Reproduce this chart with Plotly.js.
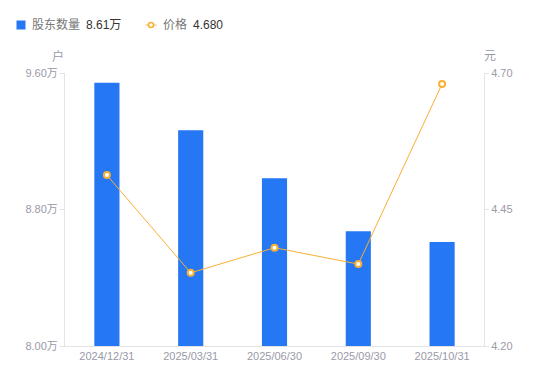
<!DOCTYPE html>
<html><head><meta charset="utf-8">
<script src="https://cdn.plot.ly/plotly-3.0.1.min.js"></script>
<style>html,body{margin:0;padding:0;background:#fff}#c{width:550px;height:381px}</style>
</head><body><div id="c"></div>
<script>
const categories = ["2024/12/31","2025/03/31","2025/06/30","2025/09/30","2025/10/31"];
const holders = [9.543, 9.264, 8.983, 8.672, 8.61]; // 万户
const prices = [4.513, 4.334, 4.380, 4.350, 4.680]; // 元
const leftTicks = [8.00, 8.80, 9.60];
const rightTicks = [4.20, 4.45, 4.70];
const legendHolder = "8.61万";
const legendPrice = "4.680";

const font = "'Liberation Sans', Arial, 'Noto Sans CJK SC', sans-serif";
const tickColor = "#9a9aa8";
const axisLine = "#e3e3e6";
const blue = "#2577F4";
const orange = "#F7B034";

const traces = [
  {type:"bar", x:categories, y:holders, width:0.3, marker:{color:blue}, yaxis:"y", hoverinfo:"skip"},
  {type:"scatter", mode:"lines+markers", x:categories, y:prices, yaxis:"y2",
   line:{color:orange, width:1}, marker:{symbol:"circle", size:6, color:"#fff", line:{color:orange, width:2}}, hoverinfo:"skip"}
];

const layout = {
  width:550, height:381,
  margin:{l:65, r:66, t:73, b:35},
  paper_bgcolor:"#fff", plot_bgcolor:"#fff",
  showlegend:false,
  font:{family:font, size:11, color:tickColor},
  xaxis:{type:"category", showgrid:false, showline:true, linecolor:axisLine, linewidth:1,
    ticks:"", tickfont:{size:11, color:tickColor}, zeroline:false, fixedrange:true},
  yaxis:{range:[8.0, 9.6], tickvals:leftTicks, ticktext:leftTicks.map(v=>v.toFixed(2)+"万"),
    showgrid:false, zeroline:false, showline:true, linecolor:axisLine, linewidth:1,
    ticks:"outside", ticklen:4, tickcolor:axisLine, tickfont:{size:11, color:tickColor}},
  yaxis2:{range:[4.2, 4.7], tickvals:rightTicks, ticktext:rightTicks.map(v=>v.toFixed(2)),
    overlaying:"y", side:"right", showgrid:false, zeroline:false, showline:true, linecolor:axisLine, linewidth:1,
    ticks:"outside", ticklen:4, tickcolor:axisLine, tickfont:{size:11, color:tickColor}},
  annotations:[
    {xref:"paper", yref:"paper", x:0, y:1, xshift:-7, yshift:17, text:"户", showarrow:false, xanchor:"center", yanchor:"middle", font:{size:12, color:tickColor}},
    {xref:"paper", yref:"paper", x:1, y:1, xshift:6, yshift:17, text:"元", showarrow:false, xanchor:"center", yanchor:"middle", font:{size:12, color:tickColor}},
  ]
};

// custom legend in pixel space (plot area: x 65..484, y 73..346)
function fx(x){return (x-65)/419;} function fy(y){return (346-y)/273;}
layout.shapes = [
  {type:"rect", xref:"paper", yref:"paper", x0:fx(16.5), x1:fx(25.5), y0:fy(29.5), y1:fy(20.5), fillcolor:blue, line:{width:0}},
  {type:"line", xref:"paper", yref:"paper", x0:fx(145.5), x1:fx(156.5), y0:fy(25), y1:fy(25), line:{color:orange, width:1}},
  {type:"circle", xref:"paper", yref:"paper", x0:fx(148.5), x1:fx(153.5), y0:fy(27.5), y1:fy(22.5), fillcolor:"#fff", line:{color:orange, width:1.5}}
];
function legText(x, text, color){
  return {xref:"paper", yref:"paper", x:fx(x), y:fy(25), text:text, showarrow:false, xanchor:"left", yanchor:"middle", font:{size:12, color:color}};
}
layout.annotations.push(legText(30, "股东数量", "#777"));
layout.annotations.push(legText(84, legendHolder, "#333"));
layout.annotations.push(legText(161, "价格", "#777"));
layout.annotations.push(legText(191, legendPrice, "#333"));

Plotly.newPlot("c", traces, layout, {displayModeBar:false, staticPlot:true});
</script></body></html>
